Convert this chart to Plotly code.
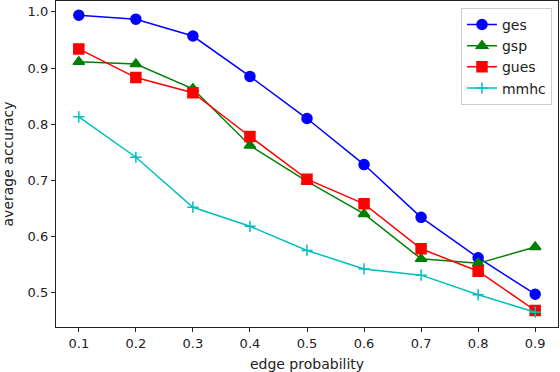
import plotly.graph_objects as go

edge_prob = [0.1, 0.2, 0.3, 0.4, 0.5, 0.6, 0.7, 0.8, 0.9]
ges = [0.994, 0.987, 0.957, 0.885, 0.810, 0.728, 0.634, 0.562, 0.497]
gsp = [0.911, 0.907, 0.863, 0.762, 0.698, 0.640, 0.560, 0.552, 0.581]
gues = [0.934, 0.883, 0.856, 0.778, 0.702, 0.658, 0.578, 0.538, 0.468]
mmhc = [0.813, 0.741, 0.652, 0.618, 0.575, 0.542, 0.531, 0.496, 0.465]
x_ticks = [0.1, 0.2, 0.3, 0.4, 0.5, 0.6, 0.7, 0.8, 0.9]
y_ticks = [0.5, 0.6, 0.7, 0.8, 0.9, 1.0]

series = [
    ("ges", ges, "#0000ff", "circle", 10),
    ("gsp", gsp, "#008000", "triangle-up", 10),
    ("gues", gues, "#ff0000", "square", 10),
    ("mmhc", mmhc, "#00bfbf", "cross-thin", 8),
]

fig = go.Figure()
for name, vals, col, sym, sz in series:
    fig.add_trace(go.Scatter(
        x=edge_prob, y=vals, name=name, mode="lines+markers",
        line=dict(color=col, width=1.5),
        marker=dict(color=col, symbol=sym, size=sz,
                    line=dict(color=col, width=1.5)),
    ))

axis_common = dict(
    showline=True, mirror=True, linecolor="#222", linewidth=1.3,
    ticks="outside", ticklen=4, tickwidth=1, tickcolor="#222",
    showgrid=False, zeroline=False,
    tickfont=dict(family="DejaVu Sans", size=13, color="#222"),
)
fig.update_xaxes(range=[0.06, 0.94], tickvals=x_ticks, tickformat=".1f",
                 title=dict(text="edge probability", standoff=9,
                            font=dict(family="DejaVu Sans", size=14, color="#222")),
                 **axis_common)
fig.update_yaxes(range=[0.4386, 1.0194], tickvals=y_ticks, tickformat=".1f",
                 title=dict(text="average accuracy", standoff=12,
                            font=dict(family="DejaVu Sans", size=14, color="#222")),
                 **axis_common)

fig.update_layout(
    width=560, height=372,
    margin=dict(l=56, r=2, t=1, b=45),
    plot_bgcolor="white", paper_bgcolor="white",
    font=dict(family="DejaVu Sans", size=13, color="#222"),
    legend=dict(x=0.988, y=0.979, xanchor="right", yanchor="top",
                bgcolor="white", bordercolor="#cccccc", borderwidth=1,
                font=dict(family="DejaVu Sans", size=14, color="#222")),
)

fig.write_html("out.html", config={"displayModeBar": False},
               post_script="document.body.style.margin='0';")
